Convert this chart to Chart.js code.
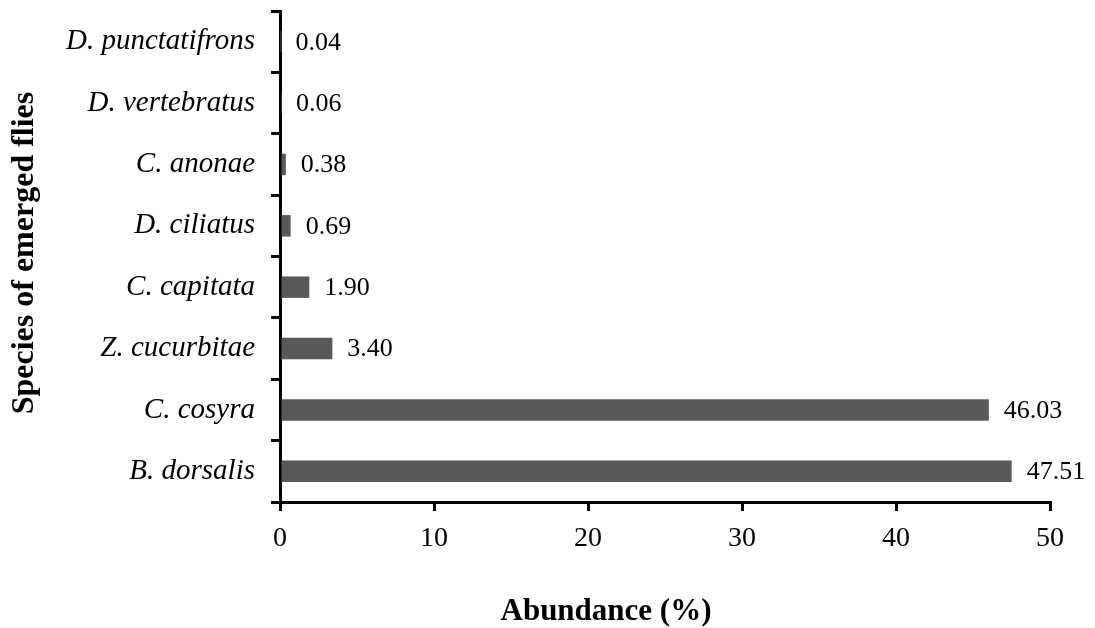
<!DOCTYPE html>
<html>
<head>
<meta charset="utf-8">
<script src="https://cdn.jsdelivr.net/npm/chart.js@4.4.0/dist/chart.umd.min.js"></script>
<style>
  html, body { margin: 0; padding: 0; background: #fff; }
  #wrap { width: 1095px; height: 628px; }
</style>
</head>
<body>
<div id="wrap"><canvas id="grafico" width="1095" height="628"></canvas></div>
<script>
// especies (de cima para baixo) e abundancia em %
const especies = ["D. punctatifrons", "D. vertebratus", "C. anonae", "D. ciliatus",
                  "C. capitata", "Z. cucurbitae", "C. cosyra", "B. dorsalis"];
const abundancia = [0.04, 0.06, 0.38, 0.69, 1.90, 3.40, 46.03, 47.51];
const ticksX = [0, 10, 20, 30, 40, 50];
const tituloX = "Abundance (%)";
const tituloY = "Species of emerged flies";

const fonte = "'Liberation Serif', 'Times New Roman', serif";

// escreve os valores ao lado das barras e os titulos dos eixos
const rotulos = {
  id: 'rotulos',
  afterDatasetsDraw(chart) {
    const ctx = chart.ctx;
    const meta = chart.getDatasetMeta(0);
    ctx.save();
    ctx.fillStyle = '#000';
    ctx.font = "26px " + fonte;
    ctx.textAlign = 'left';
    ctx.textBaseline = 'middle';
    meta.data.forEach((bar, i) => {
      ctx.fillText(abundancia[i].toFixed(2), bar.x + 15, bar.y + 1);
    });

    ctx.font = "bold 31px " + fonte;
    ctx.textAlign = 'center';
    ctx.textBaseline = 'alphabetic';
    ctx.fillText(tituloX, 606, 620);

    ctx.font = "bold 32px " + fonte;
    ctx.translate(33, 253);
    ctx.rotate(-Math.PI / 2);
    ctx.fillText(tituloY, 0, 0);
    ctx.restore();
  }
};

new Chart(document.getElementById("grafico"), {
  type: 'bar',
  data: {
    labels: especies,
    datasets: [{
      data: abundancia,
      backgroundColor: "#595959",
      borderWidth: 0,
      barPercentage: 0.35,
      categoryPercentage: 1
    }]
  },
  options: {
    indexAxis: 'y',
    responsive: false,
    animation: false,
    devicePixelRatio: 1,
    layout: { padding: { left: 0, top: 11, right: 45, bottom: 0 } },
    plugins: {
      legend: { display: false },
      tooltip: { enabled: false }
    },
    scales: {
      x: {
        min: 0,
        max: 50,
        afterFit: (s) => { s.height = 126; },
        afterBuildTicks: (s) => { s.ticks = ticksX.map(v => ({ value: v })); },
        border: { color: '#000', width: 3 },
        grid: { drawOnChartArea: false, color: '#000', tickLength: 9, lineWidth: 3 },
        ticks: { color: '#000', padding: 11, font: { family: fonte, size: 28 } }
      },
      y: {
        afterFit: (s) => { s.width = 280; s.paddingTop = 0; s.paddingBottom = 0; },
        border: { color: '#000', width: 3 },
        grid: { drawOnChartArea: false, color: '#000', tickLength: 9, lineWidth: 3 },
        ticks: { color: '#000', padding: 16, font: { family: fonte, size: 29, style: 'italic' } }
      }
    }
  },
  plugins: [rotulos]
});
</script>
</body>
</html>
